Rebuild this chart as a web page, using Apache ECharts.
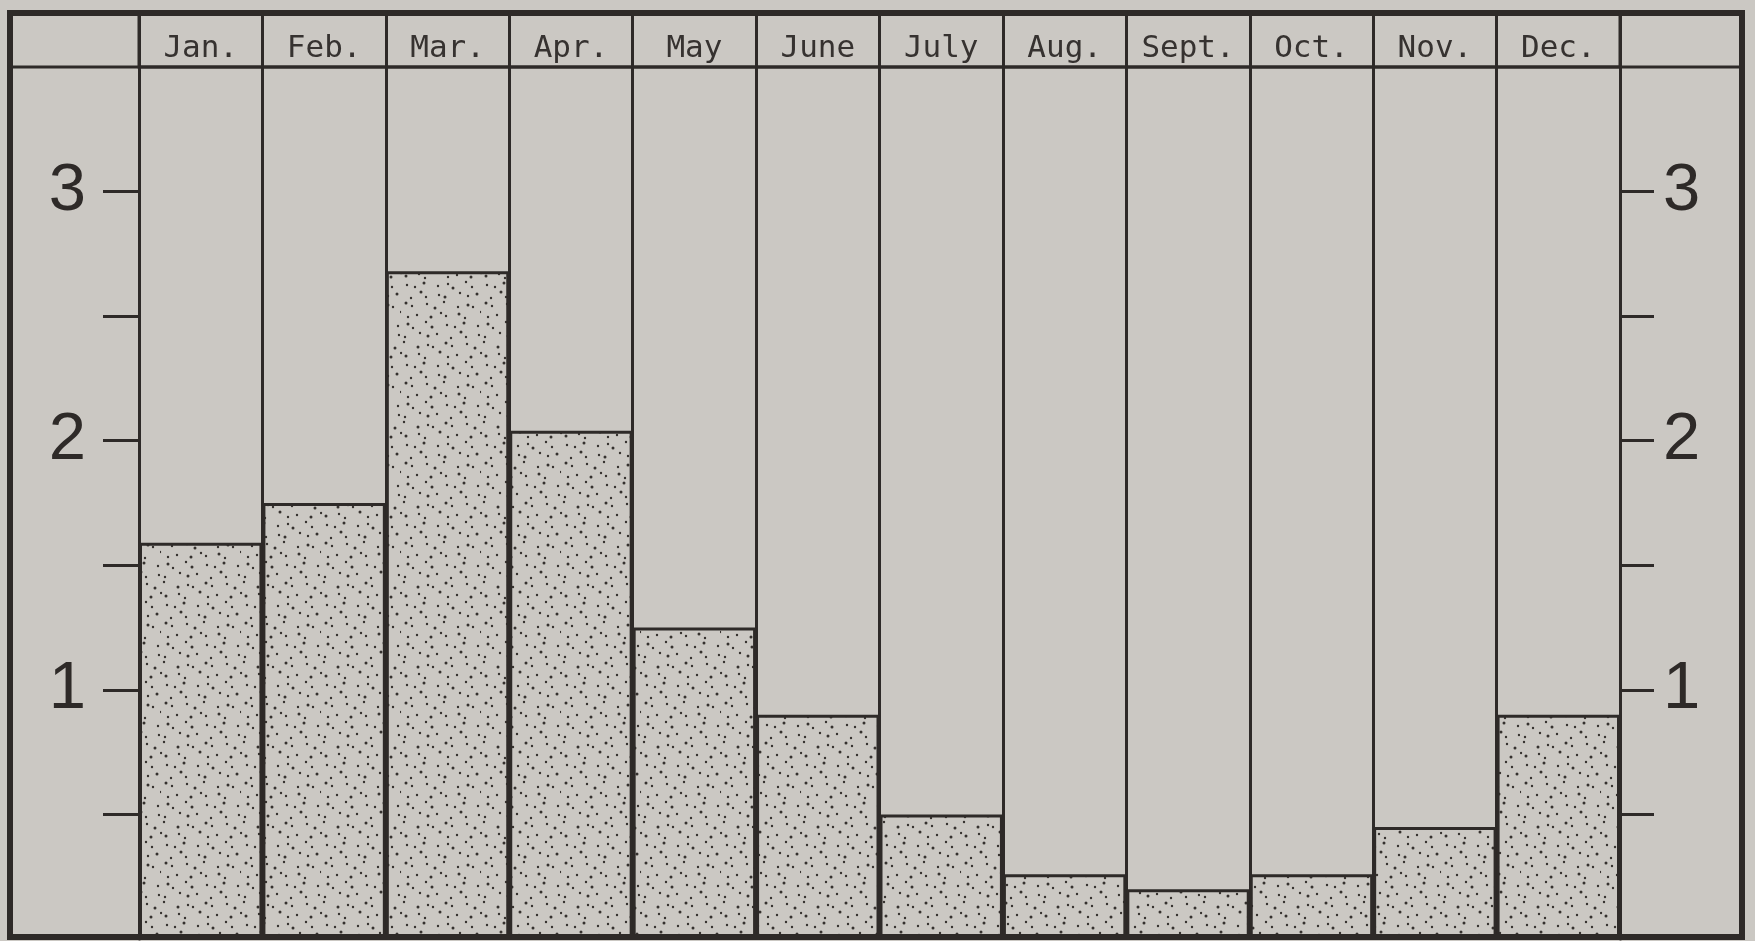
<!DOCTYPE html>
<html>
<head>
<meta charset="utf-8">
<title>Monthly chart</title>
<script src="https://cdn.jsdelivr.net/npm/echarts@6/dist/echarts.min.js"></script>
<style>
  html, body { margin: 0; padding: 0; background: #cbc8c3; }
  #chart_month { width: 1755px; height: 941px; }
</style>
</head>
<body>
<div id="chart_month"></div>
<script>
/******************** data ********************/
var months = ['Jan.', 'Feb.', 'Mar.', 'Apr.', 'May', 'June', 'July', 'Aug.', 'Sept.', 'Oct.', 'Nov.', 'Dec.'];
var monthValues = [1.59, 1.75, 2.68, 2.04, 1.25, 0.9, 0.5, 0.26, 0.2, 0.26, 0.45, 0.9];
var yTickLabels = [1, 2, 3];
var yTickMarks = [0.5, 1, 1.5, 2, 2.5, 3];

var ink = '#2e2a28';
var paper = '#cbc8c3';

// stipple texture for the bars
function makeStipple() {
    var tile = document.createElement('canvas');
    tile.width = 80;
    tile.height = 80;
    var ctx = tile.getContext('2d');
    ctx.fillStyle = paper;
    ctx.fillRect(0, 0, 80, 80);
    ctx.fillStyle = '#35312e';
    var jx = [3, -2, 1, -3, 2, 0, -1, 3];
    var jy = [-1, 2, -3, 1, 0, 3, -2, 2];
    for (var i = 0; i < 8; i++) {
        for (var j = 0; j < 8; j++) {
            var x = i * 10 + 5 + jx[(i + j * 3) % 8] + (j % 2 ? 3 : 0);
            var y = j * 10 + 5 + jy[(i * 5 + j) % 8];
            var r = ((i + j) % 3 === 0) ? 1.5 : 1.2;
            ctx.beginPath();
            ctx.arc((x + 80) % 80, (y + 80) % 80, r, 0, Math.PI * 2);
            ctx.fill();
        }
    }
    return tile;
}

var chart_month = echarts.init(document.getElementById('chart_month'));
var option_month = {
    backgroundColor: paper,
    animation: false,
    grid: [
        // main plot
        {left: 139, right: 135, top: 67, bottom: 2, show: false},
        // header row with month names
        {left: 139, right: 135, top: 14, height: 53, show: true,
         borderColor: ink, borderWidth: 3, backgroundColor: 'transparent'}
    ],
    xAxis: [
        {
            type: 'category',
            gridIndex: 0,
            data: months,
            axisLine: {show: false},
            axisTick: {show: false},
            axisLabel: {show: false},
            splitLine: {show: true, interval: 0, lineStyle: {color: ink, width: 3}}
        },
        {
            type: 'category',
            gridIndex: 1,
            data: months,
            position: 'bottom',
            axisLine: {show: false},
            axisTick: {show: false},
            splitLine: {show: true, interval: 0, lineStyle: {color: ink, width: 3}},
            axisLabel: {
                inside: true,
                interval: 0,
                margin: 3,
                color: '#363230',
                fontFamily: 'DejaVu Sans Mono',
                fontSize: 31
            }
        }
    ],
    yAxis: [
        {
            type: 'value',
            gridIndex: 0,
            position: 'left',
            min: 0,
            max: 3.5,
            interval: 0.5,
            splitLine: {show: false},
            axisLine: {show: true, lineStyle: {color: ink, width: 3}},
            axisTick: {show: true, length: 36, customValues: yTickMarks, lineStyle: {color: ink, width: 3}},
            axisLabel: {
                margin: 53,
                color: ink,
                fontFamily: 'Liberation Sans',
                fontSize: 67,
                customValues: yTickLabels
            }
        },
        {
            type: 'value',
            gridIndex: 0,
            position: 'right',
            min: 0,
            max: 3.5,
            interval: 0.5,
            splitLine: {show: false},
            axisLine: {show: true, lineStyle: {color: ink, width: 3}},
            axisTick: {show: true, length: 34, customValues: yTickMarks, lineStyle: {color: ink, width: 3}},
            axisLabel: {
                margin: 43,
                color: ink,
                fontFamily: 'Liberation Sans',
                fontSize: 67,
                customValues: yTickLabels
            }
        },
        {
            type: 'value',
            gridIndex: 1,
            show: false
        }
    ],
    series: [
        {
            type: 'bar',
            xAxisIndex: 0,
            yAxisIndex: 0,
            data: monthValues,
            barCategoryGap: '0%',
            itemStyle: {
                color: {image: makeStipple(), repeat: 'repeat'},
                borderColor: ink,
                borderWidth: 3
            }
        }
    ],
    graphic: [
        // header line across the side columns
        {type: 'line', z: 10, shape: {x1: 10, y1: 67, x2: 1742, y2: 67},
         style: {stroke: ink, lineWidth: 3}},
        // outer frame
        {type: 'rect', z: 10, shape: {x: 10, y: 13, width: 1732, height: 924},
         style: {fill: 'transparent', stroke: ink, lineWidth: 6}}
    ]
};
chart_month.setOption(option_month);
window.addEventListener('resize', function () {
    chart_month.resize();
});
</script>
</body>
</html>
